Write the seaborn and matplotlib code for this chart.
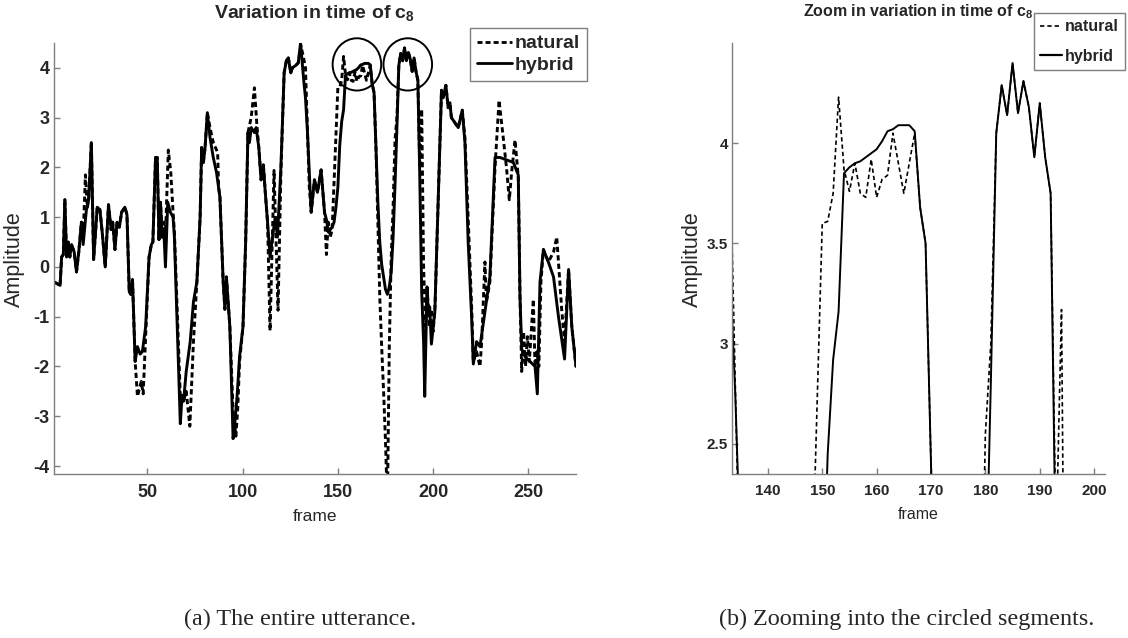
import matplotlib
matplotlib.use("Agg")
import numpy as np
import pandas as pd
import seaborn as sns
import matplotlib.pyplot as plt
from matplotlib.patches import Ellipse
from matplotlib.lines import Line2D
from matplotlib import font_manager as fm

# ---------------- data ----------------
hybrid_frame = [1, 4.2, 5.0, 5.9, 6.7, 7.6, 8.5, 9.3, 10.2, 11.6, 12.8, 14.0, 15.4, 16.3, 18.0, 19.2,
                20.6, 21.8, 23.7, 25.1, 26.3, 27.9, 29.6, 31.0, 31.8, 33.0, 34.1, 35.3, 36.5, 38.2,
                39.3, 40.5, 41.3, 42.2, 43.6, 44.8, 46.2, 47.4, 49.1, 50.9, 52.1, 52.9, 54.3, 55.2,
                56.1, 56.9, 57.8, 58.7, 59.5, 60.7, 62.1, 63.5, 64.2, 67.3, 68.2, 69.0, 70.4, 72.5,
                74.2, 76.0, 77.7, 78.5, 79.4, 80.3, 81.5, 82.9, 84.6, 86.3, 88.1, 89.8, 90.7, 91.5,
                93.3, 95.0, 95.8, 97.1, 98.4, 100.2, 101.6, 102.8, 103.6, 104.5, 106.2, 107.1, 108.5,
                109.7, 110.9, 111.9, 113.1, 114.4, 115.7, 117.1, 118.3, 120.1, 121.8, 123.0, 124.0,
                125.3, 126.1, 127.9, 129.2, 130.4, 132.2, 133, 134, 135, 136, 137.7, 139.3, 141.2,
                143, 144, 145, 146, 147, 148, 149, 150, 151, 152, 153, 154, 155, 156, 157, 158, 159,
                160, 161, 162, 163, 164, 165, 166, 167, 168, 169, 170, 171, 172, 173, 174, 175, 176,
                177, 178, 179, 180, 181, 182, 183, 184, 185, 186, 187, 188, 189, 190, 191, 192, 193,
                194, 195, 195.6, 196.8, 197.5, 198.2, 199.1, 200.9, 204.4, 205.3, 206.7, 207.9,
                208.8, 209.6, 211.4, 213.2, 215.3, 216.7, 218.4, 220.2, 221.1, 222.8, 224.6, 227.2,
                229.8, 232.5, 235.1, 238.6, 242.1, 244.7, 245.6, 246.5, 248.2, 250.9, 253.5, 254.7,
                256.1, 257.9, 260.5, 263.2, 265.8, 269.0, 271.1, 272.8, 275.0]
hybrid_amp = [-0.3, -0.37, 0.2, 0.25, 1.35, 0.2, 0.5, 0.2, 0.45, 0.3, -0.1, 0.3, 0.9, 0.45, 1.15, 1.35,
              2.5, 0.15, 1.2, 1.15, 0.7, 0.0, 1.25, 0.75, 0.9, 0.35, 0.9, 0.8, 1.1, 1.2,
              1.05, -0.5, -0.55, -0.25, -1.9, -1.6, -1.75, -1.7, -1.2, 0.2, 0.45, 0.5, 2.2, 2.2,
              0.55, 1.3, 0.6, 0.7, 0.0, 1.3, 1.1, 1.0, 0.6, -3.15, -2.6, -2.7, -2.1, -1.5,
              -0.7, -0.3, 1.0, 2.4, 2.1, 2.4, 3.1, 2.6, 2.2, 1.9, 1.4, -0.3, -0.85, -0.2,
              -1.2, -3.45, -3.2, -2.6, -1.8, -1.2, 0.5, 2.7, 2.5, 2.8, 2.7, 2.8, 2.4,
              1.75, 2.05, 1.5, 0.9, 0.2, 0.6, 1.0, 0.6, 2.0, 3.9, 4.15, 4.2,
              3.9, 4.0, 4.05, 4.1, 4.5, 3.7, 3.4, 2.75, 1.9, 1.1, 1.75, 1.5, 1.95,
              1.1, 0.95, 0.7, 0.75, 0.8, 0.9, 1.2, 1.6, 2.45, 2.92, 3.16, 3.85, 3.88, 3.9, 3.91, 3.93, 3.95,
              3.97, 4.01, 4.06, 4.07, 4.09, 4.09, 4.09, 4.06, 3.68, 3.5, 2.4, 1.3, 0.5, 0.05, -0.2, -0.45, -0.55,
              -0.4, -0.1, 0.6, 1.65, 2.8, 4.05, 4.29, 4.14, 4.4, 4.15, 4.31, 4.18, 3.93, 4.2, 3.93, 3.75, 1.8,
              -0.5, -1.5, -2.6, -0.4, -0.95, -0.8, -1.55, -0.9, 3.55, 3.4, 3.65, 3.2,
              3.3, 3.0, 2.9, 2.8, 3.15, 2.5, 0.5, -1.0, -1.95, -1.5, -1.6, -0.9,
              -0.2, 2.2, 2.2, 2.15, 2.1, 1.85, -0.6, -1.65, -1.8, -1.9, -2.0, -2.55,
              -0.3, 0.35, 0.1, -0.2, -1.0, -1.85, -0.05, -1.2, -2.0]

natural_frame = [1, 4.2, 5.0, 5.9, 6.7, 7.6, 8.5, 9.3, 10.2, 11.6, 12.8, 14.0, 15.4, 16.3, 17.5, 18.5,
                 19.2, 20.6, 21.8, 23.7, 25.1, 26.3, 27.9, 29.6, 31.0, 31.8, 33.0, 34.1, 35.3, 36.5,
                 38.2, 39.3, 40.5, 41.3, 42.2, 43.6, 44.8, 45.8, 46.8, 47.8, 49.1, 50.9, 52.1, 52.9,
                 54.3, 55.2, 56.1, 56.9, 57.8, 58.7, 59.5, 61.0, 62.3, 63.5, 64.2, 67.3, 68.2, 69.0,
                 70.4, 72.3, 74.2, 76.0, 77.7, 78.5, 79.4, 80.3, 81.5, 82.9, 84.6, 86.9, 87.4, 88.1,
                 89.8, 90.7, 91.5, 93.3, 95.0, 96.5, 97.5, 98.4, 100.2, 101.6, 102.8, 104.5, 106.2,
                 107.4, 108.5, 109.7, 110.9, 111.9, 113.1, 114.4, 116.5, 118.6, 120.1, 121.8, 123.0,
                 124.0, 125.3, 126.1, 127.9, 129.2, 130.6, 132, 133, 134, 135, 136, 137.7, 139.3,
                 141.2, 143, 144, 145, 146, 147, 148, 149, 150, 151, 152, 153, 154, 155, 156, 157,
                 158, 159, 160, 161, 162, 163, 164, 165, 166, 167, 168, 169, 170, 171, 172, 173, 174,
                 175, 176, 177, 178, 179, 180, 181, 182, 183, 184, 185, 186, 187, 188, 189, 190, 191,
                 192, 193, 194, 195, 196, 197, 198, 199, 200, 201, 204.4, 205.3, 206.7, 207.9, 208.8,
                 209.6, 211.4, 213.2, 215.3, 216.7, 218.8, 220.4, 221.1, 222.8, 224.6, 225.5, 227.2,
                 228.0, 229.8, 232.5, 234.6, 236.8, 238.5, 240.0, 241.2, 243.0, 244.7, 245.6, 246.5,
                 247.5, 248.5, 249.5, 250.5, 251.5, 252.6, 253.5, 254.5, 255.5, 256.6, 257.9, 260.5,
                 263.2, 264.9, 267.5, 269.0, 271.1, 272.8, 275.0]
natural_amp = [-0.3, -0.37, 0.2, 0.25, 1.35, 0.2, 0.5, 0.2, 0.45, 0.3, -0.1, 0.3, 0.9, 0.6, 1.85, 1.2,
               1.35, 2.5, 0.15, 1.2, 1.15, 0.7, 0.0, 1.25, 0.75, 0.9, 0.35, 0.9, 0.8, 1.1,
               1.2, 1.05, -0.5, -0.55, -0.25, -1.9, -2.6, -2.45, -2.3, -2.55, -1.4, 0.2, 0.45, 0.5,
               2.2, 2.2, 0.55, 1.3, 0.6, 0.9, 0.6, 2.35, 1.9, 1.1, 0.7, -2.6, -2.55, -2.7,
               -2.5, -3.2, -1.5, -0.3, 1.0, 2.4, 2.1, 2.4, 3.1, 2.8, 2.5, 2.3, 1.6, 1.4,
               -0.3, -0.85, -0.2, -1.2, -2.9, -3.4, -2.8, -1.9, -1.2, 0.5, 2.7, 3.0, 3.6,
               2.9, 2.4, 1.75, 2.05, 1.5, 0.9, -1.28, 1.94, -0.87, 1.9, 3.9, 4.15,
               4.2, 3.9, 4.0, 4.05, 4.1, 4.45, 4.2, 4.0, 2.8, 1.6, 1.1, 1.75, 1.5,
               1.95, 1.1, 0.25, 0.9, 0.6, 0.75, 1.7, 2.65, 3.6, 3.61, 3.75, 4.23, 3.87, 3.76, 3.9, 3.75,
               3.73, 3.92, 3.73, 3.82, 3.84, 4.05, 3.9, 3.75, 3.9, 4.05, 3.68, 3.5, 2.4, 0.9, -0.6, -1.6, -2.5,
               -3.5, -4.8, -1.6, 0.2, 1.2, 2.55, 3.0, 4.05, 4.29, 4.14, 4.4, 4.15, 4.31, 4.18, 3.93, 4.2, 3.93,
               3.75, 2.0, 3.17, 0.0, -1.2, -0.5, -1.2, -0.85, -1.3, -0.8, 3.55, 3.4, 3.65, 3.2, 3.3,
               3.0, 2.9, 2.8, 3.15, 2.6, 0.6, -1.0, -1.9, -1.7, -2.0, -1.5, 0.1,
               -0.7, -0.3, 2.0, 3.35, 2.6, 2.0, 1.35, 1.9, 2.55, 1.8, -0.6, -2.1,
               -1.3, -2.0, -1.4, -1.9, -1.3, -0.65, -2.0, -1.7, -2.0, -0.3, 0.35, 0.1,
               0.3, 0.6, -0.86, -1.5, -0.05, -1.2, -2.0]

series_labels = ["natural", "hybrid"]
circle_centers = [(160.0, 4.07), (186.7, 4.07)]
circle_size = (25.5, 1.05)

left_xticks = [50, 100, 150, 200, 250]
left_yticks = [-4, -3, -2, -1, 0, 1, 2, 3, 4]
right_xticks = [140, 150, 160, 170, 180, 190, 200]
right_yticks = [2.5, 3, 3.5, 4]
right_ytick_labels = ["2.5", "3", "3.5", "4"]

title_left = r"Variation in time of c$_{8}$"
title_right = r"Zoom in variation in time of c$_{8}$"
caption_a = "(a) The entire utterance."
caption_b = "(b) Zooming into the circled segments."

# ---------------- style ----------------
sns.set_theme(style="white")
plt.rcParams["font.family"] = ["Liberation Sans", "DejaVu Sans"]
plt.rcParams["axes.unicode_minus"] = False
plt.rcParams["mathtext.fontset"] = "custom"
plt.rcParams["mathtext.rm"] = "Liberation Sans:bold"
plt.rcParams["mathtext.it"] = "Liberation Sans:bold"
plt.rcParams["mathtext.bf"] = "Liberation Sans:bold"

names = {f.name for f in fm.fontManager.ttflist}
HAS_NARROW = "Liberation Sans Narrow" in names
NARROW = ["Liberation Sans Narrow", "Liberation Sans"] if HAS_NARROW else ["Liberation Sans"]
# sizes for the compressed-looking right panel
if HAS_NARROW:
    r_tick, r_lab, r_title, r_leg = 12.5, 13, 13, 13
else:
    r_tick, r_lab, r_title, r_leg = 11, 11.5, 11.5, 11.5

GRAY = "#7f7f7f"

df_h = pd.DataFrame({"frame": hybrid_frame, "amp": hybrid_amp})
df_n = pd.DataFrame({"frame": natural_frame, "amp": natural_amp})

fig = plt.figure(figsize=(11.28, 6.38), dpi=100)
W, H = 1128, 638
axL = fig.add_axes([54 / W, 1 - 474 / H, 522 / W, 431 / H])
axR = fig.add_axes([732 / W, 1 - 474 / H, 373 / W, 431 / H])

dashL = (0, (1.8, 1.1))
dashR = (0, (2.6, 1.8))

# left panel
sns.lineplot(data=df_n, x="frame", y="amp", ax=axL, color="black", lw=2.1,
             linestyle=dashL, estimator=None, sort=False)
sns.lineplot(data=df_h, x="frame", y="amp", ax=axL, color="black", lw=2.1,
             estimator=None, sort=False)
for (cx, cy) in circle_centers:
    axL.add_patch(Ellipse((cx, cy), circle_size[0], circle_size[1], fill=False,
                          edgecolor="black", lw=1.4, clip_on=False))
axL.set_xlim(1, 275)
axL.set_ylim(-4.16, 4.5)
axL.set_xticks(left_xticks)
axL.set_yticks(left_yticks)
axL.set_xticklabels([str(v) for v in left_xticks], fontweight="bold", fontsize=13)
axL.set_yticklabels([str(v) for v in left_yticks], fontweight="bold", fontsize=13)
axL.tick_params(axis="x", direction="in", length=4, width=1, color=GRAY, pad=7, bottom=True)
axL.tick_params(axis="y", direction="in", length=4, width=1, color=GRAY, pad=3, left=True)
axL.set_xlabel("frame", fontsize=12.5)
axL.set_ylabel("Amplitude", fontsize=15.5)
axL.xaxis.set_label_coords(0.5, -0.082)
axL.yaxis.set_label_coords(-0.0556, 0.499)
axL.set_title(title_left, fontsize=14, fontweight="bold", pad=18)

# right panel
sns.lineplot(data=df_n, x="frame", y="amp", ax=axR, color="black", lw=1.2,
             linestyle=dashR, estimator=None, sort=False)
sns.lineplot(data=df_h, x="frame", y="amp", ax=axR, color="black", lw=1.4,
             estimator=None, sort=False)
axR.set_xlim(133.4, 202)
axR.set_ylim(2.35, 4.5)
axR.set_xticks(right_xticks)
axR.set_yticks(right_yticks)
axR.set_xticklabels([str(v) for v in right_xticks], fontweight="bold",
                    fontsize=r_tick, family=NARROW)
axR.set_yticklabels(right_ytick_labels, fontweight="bold", fontsize=r_tick, family=NARROW)
axR.tick_params(axis="x", direction="in", length=4, width=1, color=GRAY, pad=7, bottom=True)
axR.tick_params(axis="y", direction="in", length=4, width=1, color=GRAY, pad=3, left=True)
axR.set_xlabel("frame", fontsize=r_lab, family=NARROW)
axR.set_ylabel("Amplitude", fontsize=15.5)
axR.xaxis.set_label_coords(0.5, -0.076)
axR.yaxis.set_label_coords(-0.078, 0.499)
axR.set_title(title_right, fontsize=r_title, fontweight="bold", pad=19, family=NARROW)

for ax in (axL, axR):
    for s in ("top", "right"):
        ax.spines[s].set_visible(False)
    for s in ("left", "bottom"):
        ax.spines[s].set_color(GRAY)
        ax.spines[s].set_linewidth(1.0)

# legends
hL = [Line2D([], [], color="black", lw=2.0, linestyle=dashL),
      Line2D([], [], color="black", lw=2.0)]
legL = axL.legend(hL, series_labels, loc="upper right", bbox_to_anchor=(1.021, 1.0348),
                  borderaxespad=0, prop=dict(weight="bold", size=14), handlelength=1.8,
                  handletextpad=0.15, borderpad=0.35, labelspacing=0.2, fancybox=False,
                  framealpha=1, edgecolor=GRAY)
legL.get_frame().set_linewidth(1.0)

hR = [Line2D([], [], color="black", lw=1.2, linestyle=dashR),
      Line2D([], [], color="black", lw=1.6)]
legR = axR.legend(hR, series_labels, loc="upper right", bbox_to_anchor=(1.054, 1.0696),
                  borderaxespad=0, prop=dict(weight="bold", size=r_leg, family=NARROW),
                  handlelength=1.35, handletextpad=0.2, borderpad=0.4, labelspacing=0.9,
                  fancybox=False, framealpha=1, edgecolor=GRAY)
legR.get_frame().set_linewidth(1.0)

# captions
fig.text(300 / W, 1 - 619 / H, caption_a, ha="center", va="center",
         family=["Liberation Serif", "DejaVu Serif"], fontsize=17.4)
fig.text(907 / W, 1 - 619 / H, caption_b, ha="center", va="center",
         family=["Liberation Serif", "DejaVu Serif"], fontsize=17.4)

fig.savefig("out.png", dpi=100)
